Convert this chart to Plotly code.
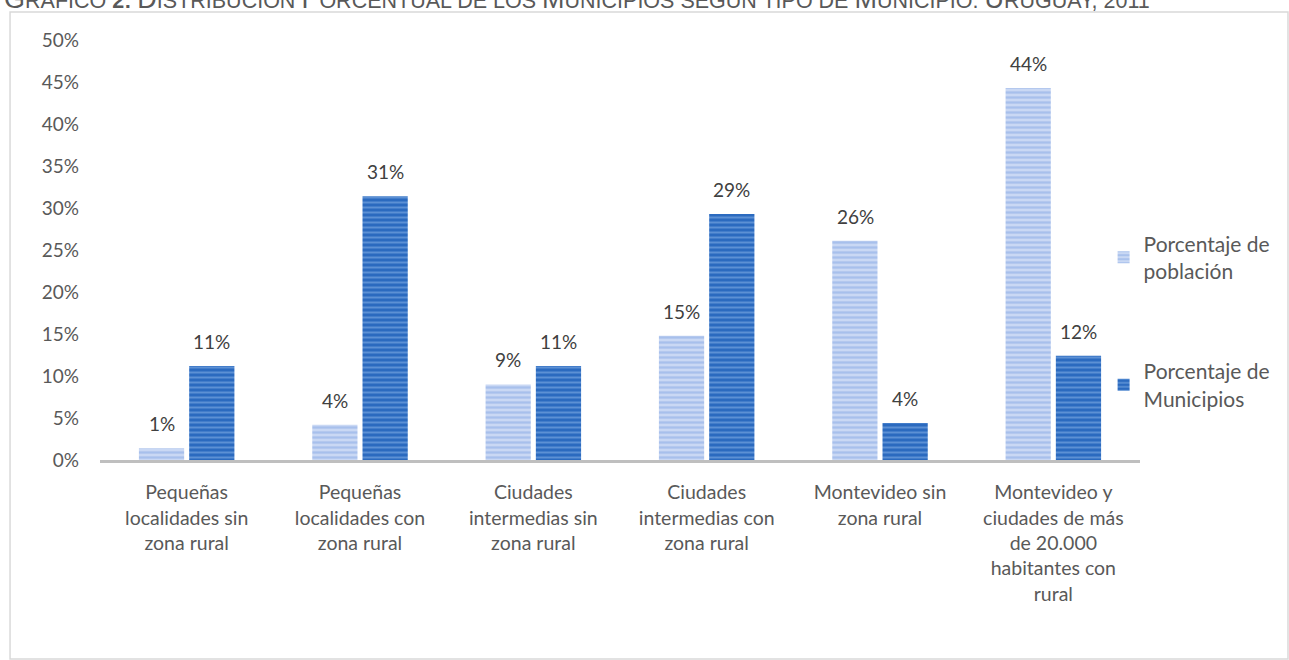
import plotly.graph_objects as go

categories = [
    "Pequeñas<br>localidades sin<br>zona rural",
    "Pequeñas<br>localidades con<br>zona rural",
    "Ciudades<br>intermedias sin<br>zona rural",
    "Ciudades<br>intermedias con<br>zona rural",
    "Montevideo sin<br>zona rural",
    "Montevideo y<br>ciudades de más<br>de 20.000<br>habitantes con<br>rural",
]
poblacion = [0.014, 0.042, 0.090, 0.148, 0.261, 0.443]
municipios = [0.112, 0.314, 0.112, 0.293, 0.044, 0.124]
series_names = ["Porcentaje de<br>población", "Porcentaje de<br>Municipios"]
y_ticks = [0, 0.05, 0.10, 0.15, 0.20, 0.25, 0.30, 0.35, 0.40, 0.45, 0.50]

FONT = "Lato"
TXT = "#595959"
LBL = "#404040"

fig = go.Figure()
fig.add_trace(go.Bar(
    x=categories, y=poblacion, name=series_names[0], legendgroup="a",
    marker=dict(color="#c3d4f3", line=dict(width=0),
                pattern=dict(shape="-", bgcolor="#c9d8f4", fgcolor="#85a7e4", size=5, solidity=0.45)),
))
fig.add_trace(go.Bar(
    x=categories, y=municipios, name=series_names[1], legendgroup="b",
    marker=dict(color="#2e6fc2", line=dict(width=0),
                pattern=dict(shape="-", bgcolor="#2b6abf", fgcolor="#8db6ea", size=5, solidity=0.4)),
))

annotations = []
for series, dx in ((poblacion, -25), (municipios, 25)):
    for cat, val in zip(categories, series):
        annotations.append(dict(
            x=cat, y=val, xref="x", yref="y", text=f"{val:.0%}",
            showarrow=False, xanchor="center", yanchor="bottom",
            xshift=dx, yshift=11,
            font=dict(size=19, color=LBL, family=FONT)))

title_html = ("<span style='font-size:27px'>G</span>RÁFICO <b>2:</b> "
              "<span style='font-size:27px'>D</span>ISTRIBUCIÓN "
              "<span style='font-size:27px'>P</span>ORCENTUAL DE LOS "
              "<span style='font-size:27px'>M</span>UNICIPIOS SEGÚN TIPO DE "
              "<span style='font-size:27px'>M</span>UNICIPIO. "
              "<span style='font-size:27px'>U</span>RUGUAY, 2011")
annotations.append(dict(text=title_html, xref="paper", yref="paper",
                        x=-0.0942, xanchor="left", y=1.068, yanchor="bottom",
                        yshift=-5, showarrow=False,
                        font=dict(size=21.5, color=TXT, family="Liberation Sans")))

fig.update_layout(
    width=1289, height=660,
    margin=dict(l=100, r=149, t=40, b=200),
    paper_bgcolor="white", plot_bgcolor="white",
    font=dict(family=FONT, color=TXT, size=18),
    barmode="group", bargap=0.42, bargroupgap=0.1,
    showlegend=True,
    legend=dict(x=0.965, xanchor="left", y=0.33, yanchor="middle",
                font=dict(size=21, color=TXT, family=FONT),
                tracegroupgap=70, itemwidth=30, bgcolor="rgba(0,0,0,0)"),
    xaxis=dict(showline=True, linecolor="#bfbfbf", linewidth=3, ticks="",
               ticklabelstandoff=13,
               tickfont=dict(size=19.5, color=TXT, family=FONT), showgrid=False),
    yaxis=dict(range=[0, 0.5], tickvals=y_ticks, tickformat=".0%", showgrid=False,
               zeroline=False, showline=False, ticks="", ticklabelstandoff=20,
               tickfont=dict(size=19, color=TXT, family=FONT)),
    shapes=[dict(type="rect", xref="paper", yref="paper",
                 x0=-0.0865, x1=1.1423, y0=-0.4738, y1=1.0667,
                 line=dict(color="#d9d9d9", width=1.5), layer="below")],
    annotations=annotations,
)

fig.write_html("out.html", config={"displayModeBar": False},
               post_script="document.body.style.margin='0';document.body.style.overflow='hidden';")
